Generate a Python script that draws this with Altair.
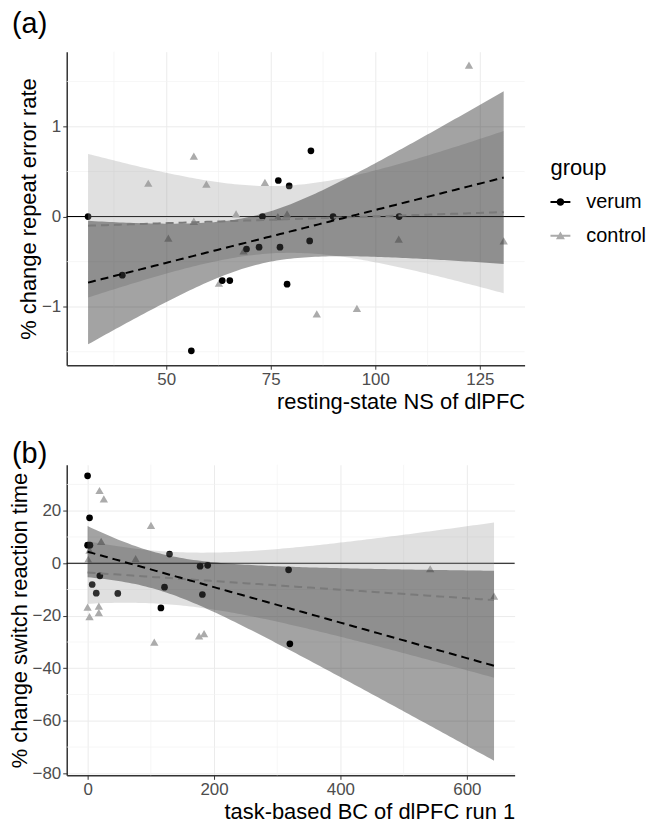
import altair as alt
import numpy as np
import pandas as pd

# ---------------- data ----------------
GROUPS = ["verum", "control"]

# panel (a): resting-state NS of dlPFC vs % change repeat error rate
a_verum_x = [31.3, 39.5, 56.0, 63.4, 65.2, 69.2, 72.2, 73.0, 76.8, 77.2, 79.4, 78.9, 84.3, 84.6, 89.9, 105.7]
a_verum_y = [0.0, -0.65, -1.49, -0.71, -0.71, -0.36, -0.34, 0.0, 0.40, -0.34, 0.34, -0.75, -0.27, 0.73, 0.0, 0.0]
a_control_x = [45.7, 56.6, 59.6, 50.5, 56.6, 66.7, 62.6, 73.6, 76.7, 78.9, 86.0, 95.6, 105.6, 122.4, 130.7, 68.5]
a_control_y = [0.37, 0.67, 0.36, -0.24, -0.05, 0.03, -0.74, 0.38, 0.0, 0.03, -1.08, -1.02, -0.25, 1.68, -0.27, -0.38]

# panel (b): task-based BC of dlPFC run 1 vs % change switch reaction time
b_verum_x = [0.0, 3.1, 0.0, 3.7, 19.4, 7.3, 13.7, 47.8, 129.6, 121.7, 116.0, 178.0, 190.0, 181.6, 318.0, 320.0]
b_verum_y = [33.3, 17.3, 6.9, 6.9, -4.8, -8.1, -11.4, -11.5, 3.5, -9.1, -17.0, -1.1, -0.8, -11.9, -2.5, -30.7]
b_control_x = [18.9, 25.7, 100.3, 21.5, 1.0, 3.0, 76.0, 0.0, 3.1, 17.8, 17.8, 105.5, 176.4, 184.3, 542.0, 643.0]
b_control_y = [27.7, 24.5, 14.4, 8.3, 1.5, 5.0, 1.8, -16.7, -20.3, -16.3, -18.8, -30.0, -27.7, -26.8, -2.1, -12.5]

# axis ticks / labels
a_xticks = [50, 75, 100, 125]
a_xminor = [37.5, 62.5, 87.5, 112.5]
a_yticks = [-1, 0, 1]
a_yminor = [-1.5, -0.5, 0.5, 1.5]
b_xticks = [0, 200, 400, 600]
b_xminor = [100, 300, 500]
b_yticks = [-80, -60, -40, -20, 0, 20]
b_yminor = [-70, -50, -30, -10, 10, 30]
hline_y = [0]

# t quantiles (0.975) for the 95% confidence band of the linear fit
T975 = {12: 2.179, 13: 2.160, 14: 2.145, 15: 2.131, 16: 2.120}

FONT = "Liberation Sans"


def lm_band(x, y, lo, hi, n=120):
    x = np.asarray(x, float)
    y = np.asarray(y, float)
    b, a = np.polyfit(x, y, 1)
    xs = np.linspace(lo, hi, n)
    fit = a + b * xs
    res = y - (a + b * x)
    df = len(x) - 2
    s = np.sqrt(np.sum(res ** 2) / df)
    sxx = np.sum((x - x.mean()) ** 2)
    se = s * np.sqrt(1.0 / len(x) + (xs - x.mean()) ** 2 / sxx)
    t = T975[df]
    return pd.DataFrame({"x": xs, "fit": fit, "lo": fit - t * se, "hi": fit + t * se})


PATH_V = ("M-1,-0.1L1,-0.1L1,0.1L-1,0.1Z"
          "M-0.38,0A0.38,0.38,0,1,1,0.38,0A0.38,0.38,0,1,1,-0.38,0Z")
PATH_C = ("M-1,-0.1L1,-0.1L1,0.1L-1,0.1Z"
          "M0.45,0.34L-0.45,0.34L0,-0.44Z")


def group_legend():
    return alt.Legend(title="group", orient="none", legendX=486, legendY=107,
                      symbolSize=400, titleFontSize=22, labelFontSize=20,
                      titleFontWeight="normal", titleColor="black", labelColor="black",
                      rowPadding=14, titlePadding=12, labelOffset=16,
                      symbolStrokeWidth=0, symbolOpacity=1)


def make_panel(vx, vy, cx, cy, xdom, ydom, xticks, xminor, yticks, yminor,
               xtitle, ytitle, label, w, h, legend, title_dy, title_off):
    lo, hi = min(vx + cx), max(vx + cx)
    sv = lm_band(vx, vy, lo, hi)
    sc = lm_band(cx, cy, lo, hi)
    pv = pd.DataFrame({"x": vx, "y": vy})
    pc = pd.DataFrame({"x": cx, "y": cy})

    xs = alt.Scale(domain=xdom, nice=False, zero=False)
    ys = alt.Scale(domain=ydom, nice=False, zero=False)
    xaxis = alt.Axis(title=xtitle, values=xticks, titleAnchor="end", titleAlign="right")
    yaxis = alt.Axis(title=ytitle, values=yticks)

    minor_x = alt.Chart(pd.DataFrame({"v": xminor})).mark_rule(
        color="#f2f2f2", strokeWidth=0.7).encode(x=alt.X("v:Q", scale=xs, axis=xaxis))
    minor_y = alt.Chart(pd.DataFrame({"v": yminor})).mark_rule(
        color="#f2f2f2", strokeWidth=0.7).encode(y=alt.Y("v:Q", scale=ys, axis=yaxis))
    hline = alt.Chart(pd.DataFrame({"v": hline_y})).mark_rule(
        color="black", strokeWidth=1.1).encode(y=alt.Y("v:Q", scale=ys, axis=yaxis))

    pts_c = alt.Chart(pc).mark_point(shape="triangle-up", filled=True, color="#ababab",
                                     opacity=1, size=70).encode(
        x=alt.X("x:Q", scale=xs, axis=xaxis), y=alt.Y("y:Q", scale=ys, axis=yaxis))
    pts_v = alt.Chart(pv).mark_point(shape="circle", filled=True, color="black",
                                     opacity=1, size=45).encode(
        x=alt.X("x:Q", scale=xs, axis=xaxis), y=alt.Y("y:Q", scale=ys, axis=yaxis))

    band_c = alt.Chart(sc).mark_area(color="#999999", opacity=0.3).encode(
        x=alt.X("x:Q", scale=xs, axis=xaxis), y=alt.Y("lo:Q", scale=ys, axis=yaxis), y2="hi:Q")
    band_v = alt.Chart(sv).mark_area(color="black", opacity=0.36).encode(
        x=alt.X("x:Q", scale=xs, axis=xaxis), y=alt.Y("lo:Q", scale=ys, axis=yaxis), y2="hi:Q")
    line_c = alt.Chart(sc).mark_line(color="#7a7a7a", strokeWidth=2, strokeDash=[8, 5]).encode(
        x=alt.X("x:Q", scale=xs, axis=xaxis), y=alt.Y("fit:Q", scale=ys, axis=yaxis))
    line_v = alt.Chart(sv).mark_line(color="black", strokeWidth=2, strokeDash=[8, 5]).encode(
        x=alt.X("x:Q", scale=xs, axis=xaxis), y=alt.Y("fit:Q", scale=ys, axis=yaxis))

    layers = [minor_x, minor_y, hline, pts_c, pts_v, band_c, band_v, line_c, line_v]

    if legend:
        leg = alt.Chart(pd.DataFrame({"group": GROUPS})).mark_point(
            filled=True, size=0).encode(
            x=alt.value(0), y=alt.value(0),
            shape=alt.Shape("group:N", scale=alt.Scale(domain=GROUPS, range=[PATH_V, PATH_C]),
                            legend=group_legend()),
            color=alt.Color("group:N", scale=alt.Scale(domain=GROUPS, range=["black", "#ababab"]),
                            legend=group_legend()))
        layers.append(leg)

    return alt.layer(*layers).properties(
        width=w, height=h,
        title=alt.Title(label, anchor="start", frame="group", dx=-55, dy=title_dy,
                        fontSize=29, fontWeight="normal", color="black", offset=title_off),
    )


panel_a = make_panel(a_verum_x, a_verum_y, a_control_x, a_control_y,
                     [26.2, 135.7], [-1.65, 1.83], a_xticks, a_xminor, a_yticks, a_yminor,
                     "resting-state NS of dlPFC", "% change repeat error rate", "(a)",
                     460, 315, True, 0, 12)
panel_b = make_panel(b_verum_x, b_verum_y, b_control_x, b_control_y,
                     [-33, 675.6], [-80.76, 37.5], b_xticks, b_xminor, b_yticks, b_yminor,
                     "task-based BC of dlPFC run 1", "% change switch reaction time", "(b)",
                     450, 312, False, 0, -5)

chart = alt.vconcat(panel_a, panel_b, spacing=28).properties(
    padding={"left": 0, "top": 0, "right": 5, "bottom": 0}
).configure(font=FONT, background="white").configure_view(stroke=None).configure_axis(
    labelFont=FONT, titleFont=FONT, labelFontSize=17, labelColor="#4d4d4d",
    titleFontSize=22, titleFontWeight="normal", titleColor="black",
    domainColor="#333333", domainWidth=1.5, tickColor="#333333", tickSize=4,
    labelPadding=2, gridColor="#ebebeb", gridWidth=1, titlePadding=1,
).configure_axisX(titlePadding=4).configure_legend(labelFont=FONT, titleFont=FONT)

chart.save("out.html", embed_options={"renderer": "svg", "actions": False})
